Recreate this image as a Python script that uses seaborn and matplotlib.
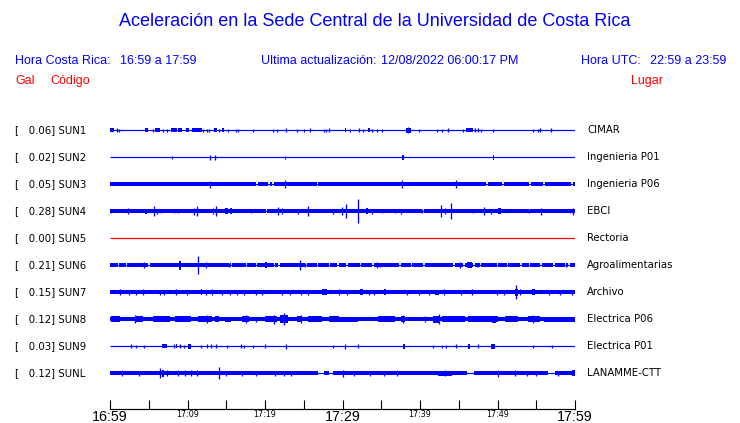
import matplotlib
matplotlib.use("Agg")
import matplotlib.pyplot as plt
import matplotlib.transforms as mtransforms
import seaborn as sns

# ---------------- data ----------------
codes = ["SUN1", "SUN2", "SUN3", "SUN4", "SUN5", "SUN6", "SUN7", "SUN8", "SUN9", "SUNL"]
places = ["CIMAR", "Ingenieria P01", "Ingenieria P06", "EBCI", "Rectoria",
          "Agroalimentarias", "Archivo", "Electrica P06", "Electrica P01", "LANAMME-CTT"]
peak_gal = [0.06, 0.02, 0.05, 0.28, 0.00, 0.21, 0.15, 0.12, 0.03, 0.12]
trace_colors = ["#0000ff"] * 4 + ["#ff0000"] + ["#0000ff"] * 5

# noise floor half-amplitude of each trace (relative units)
noise_floor = [0.6, 0.5, 2.2, 1.9, 0.5, 2.0, 2.0, 2.1, 0.5, 2.0]

# minutes after 16:59
tick_minutes = [0, 5, 10, 15, 20, 25, 30, 35, 40, 45, 50, 55, 60]
label_minutes = [0, 10, 20, 30, 40, 50, 60]
tick_labels = ["16:59", "17:09", "17:19", "17:29", "17:39", "17:49", "17:59"]
big_labels = ["16:59", "17:29", "17:59"]

# events: (start minute, end minute, half amplitude)
sun1_events = [(0.0, 0.5, 1.8), (0.9, 0.9, 1.8), (1.1, 1.1, 1.5), (4.5, 4.9, 1.8), (5.5, 5.5, 1.5),
               (5.8, 6.5, 1.8), (6.8, 6.8, 1.5), (7.4, 7.4, 1.5), (7.9, 8.6, 2.0), (8.8, 9.3, 1.8),
               (9.8, 10.2, 2.0), (10.6, 11.9, 2.0), (12.0, 12.0, 1.5), (12.5, 12.5, 1.5),
               (12.8, 12.8, 1.5), (13.4, 13.8, 2.0), (14.1, 14.1, 1.5), (14.5, 14.7, 2.0),
               (15.2, 15.2, 1.5), (16.3, 16.3, 1.5), (16.5, 16.5, 1.5), (18.5, 18.5, 1.5),
               (21.0, 21.0, 1.5), (21.5, 21.5, 1.5), (22.7, 22.7, 1.8), (24.1, 24.1, 1.5),
               (25.0, 25.0, 1.5), (25.8, 25.8, 1.8), (27.6, 27.6, 1.5), (27.9, 27.9, 1.5),
               (28.3, 28.3, 1.8), (30.3, 30.5, 1.8), (31.0, 31.0, 1.5), (32.1, 32.1, 1.8),
               (32.6, 32.6, 1.5), (33.3, 33.5, 1.8), (33.8, 33.8, 1.5), (34.5, 34.5, 1.5),
               (35.1, 35.1, 1.5), (38.2, 38.9, 2.5), (38.5, 38.5, 3.2), (39.9, 39.9, 1.5),
               (42.2, 42.2, 1.5), (42.8, 42.8, 1.5), (43.6, 43.6, 1.8), (45.5, 45.5, 1.5),
               (45.9, 46.9, 2.2), (47.1, 47.1, 1.8), (47.5, 47.5, 1.8), (47.9, 47.9, 1.5),
               (49.4, 49.4, 1.5), (54.6, 54.6, 1.5), (55.2, 55.2, 1.5), (55.5, 55.5, 1.8),
               (56.9, 56.9, 1.8)]
sun2_events = [(8.0, 8.0, 1.5), (12.9, 13.0, 2.5), (13.5, 13.5, 2.5), (22.6, 22.6, 1.5),
               (37.7, 37.9, 2.5), (49.4, 49.6, 2.5)]
sun3_events = [(12.9, 12.9, 3.5), (22.6, 22.6, 3.8), (37.7, 37.7, 3.8), (44.7, 44.7, 3.8)]
sun4_events = [(0.1, 0.1, 2.0), (2.3, 2.3, 3.0), (4.5, 4.8, 2.5), (5.7, 5.7, 5.0), (6.0, 6.0, 2.5),
               (6.6, 6.6, 2.0), (8.3, 8.3, 2.0), (8.8, 8.8, 2.0), (10.9, 10.9, 3.5), (11.2, 11.2, 5.0),
               (13.3, 13.3, 3.0), (13.7, 13.7, 5.0), (14.8, 15.2, 3.0), (15.5, 15.8, 3.0),
               (18.2, 18.2, 1.8), (21.7, 21.7, 4.0), (22.2, 22.2, 3.0), (24.2, 24.2, 2.5),
               (25.5, 25.5, 5.0), (28.8, 28.8, 2.5), (29.9, 29.9, 4.0), (30.4, 30.4, 7.0),
               (32.0, 32.0, 12.0), (33.0, 33.3, 3.0), (33.8, 33.8, 2.5), (35.1, 35.1, 1.8),
               (36.8, 36.8, 2.0), (37.6, 37.6, 2.5), (40.2, 40.2, 1.8), (42.7, 42.7, 6.0),
               (43.2, 43.2, 3.0), (44.0, 44.0, 8.0), (46.9, 46.9, 1.8), (48.2, 48.2, 4.0),
               (49.1, 49.1, 2.5), (50.1, 50.5, 3.0), (54.0, 54.0, 1.8), (55.6, 55.6, 3.5),
               (59.4, 59.4, 2.0), (59.8, 59.9, 3.5)]
sun5_events = []
sun6_events = [(0.0, 1.0, 2.4), (4.4, 4.4, 2.8), (8.9, 9.2, 4.5), (11.3, 11.3, 8.7), (12.4, 12.4, 2.8),
               (15.4, 15.4, 2.4), (20.0, 20.3, 2.8), (24.5, 24.5, 5.3), (25.2, 25.2, 2.4),
               (34.5, 34.5, 2.8), (34.8, 34.8, 2.4), (45.1, 45.1, 2.8), (46.0, 46.7, 2.8),
               (47.3, 47.3, 2.4), (58.9, 58.9, 2.2)]
sun7_events = [(1.3, 1.3, 2.8), (2.5, 2.5, 2.5), (3.3, 3.3, 2.5), (4.2, 4.2, 2.8), (6.4, 6.4, 2.5),
               (7.0, 7.0, 2.5), (8.5, 8.5, 2.8), (9.9, 9.9, 2.5), (11.7, 11.9, 2.8), (12.4, 12.4, 2.5),
               (13.1, 13.1, 2.8), (14.5, 14.5, 2.5), (15.5, 15.5, 2.5), (16.4, 16.4, 2.5),
               (17.3, 17.3, 2.5), (18.9, 18.9, 2.5), (19.6, 19.6, 2.5), (22.2, 22.2, 2.5),
               (23.2, 23.2, 2.5), (24.7, 24.7, 2.5), (25.6, 25.6, 2.5), (27.3, 28.0, 2.8),
               (29.5, 29.5, 2.8), (30.6, 30.6, 2.5), (32.3, 32.6, 3.0), (33.4, 33.4, 2.5),
               (34.0, 34.0, 2.5), (35.3, 35.6, 2.8), (38.3, 38.3, 2.5), (39.9, 39.9, 2.5),
               (41.1, 41.1, 2.5), (41.9, 42.4, 2.5), (43.1, 43.1, 3.0), (45.3, 45.3, 2.5),
               (46.7, 46.7, 2.8), (49.9, 49.9, 2.5), (50.9, 50.9, 2.5), (52.3, 52.6, 3.5),
               (52.4, 52.4, 7.0), (52.9, 52.9, 2.8), (54.5, 54.8, 2.8), (56.6, 56.6, 2.5),
               (58.0, 58.0, 2.5), (59.6, 59.6, 2.5)]
sun8_events = [(0.1, 1.3, 2.8), (3.2, 3.2, 4.0), (3.4, 4.3, 2.8), (5.6, 7.7, 3.0), (8.4, 10.5, 2.8),
               (11.4, 13.1, 3.0), (12.5, 12.5, 4.0), (13.6, 14.0, 2.8), (14.8, 15.6, 2.5),
               (17.0, 17.9, 3.2), (17.6, 17.6, 3.8), (18.9, 18.9, 2.5), (20.0, 21.5, 3.2),
               (21.1, 21.1, 4.5), (21.9, 23.0, 3.8), (22.5, 22.5, 6.0), (24.1, 24.7, 3.2),
               (24.7, 24.7, 4.0), (25.6, 27.3, 2.8), (28.2, 29.5, 3.2), (29.5, 32.0, 2.5),
               (34.6, 36.8, 2.8), (37.6, 38.1, 3.2), (37.8, 37.8, 4.0), (40.6, 40.6, 3.0),
               (41.7, 42.4, 3.5), (42.4, 42.4, 4.8), (42.8, 45.8, 2.7), (46.2, 50.1, 2.7),
               (49.3, 49.8, 3.5), (51.0, 52.6, 2.7), (53.9, 55.5, 3.2), (54.6, 54.6, 4.0),
               (56.0, 60.0, 2.5)]
sun9_events = [(2.7, 2.7, 2.0), (3.3, 3.3, 1.5), (4.4, 4.4, 1.5), (6.7, 7.3, 2.0), (8.2, 8.2, 2.0),
               (8.5, 8.7, 2.0), (9.0, 9.0, 2.0), (9.5, 9.5, 1.5), (10.1, 10.5, 2.5), (11.8, 11.8, 1.5),
               (12.5, 12.5, 2.0), (13.0, 13.0, 2.0), (13.7, 13.7, 2.0), (15.1, 15.1, 1.5),
               (16.9, 16.9, 2.0), (17.3, 17.3, 1.5), (18.5, 18.5, 1.5), (20.0, 20.0, 2.0),
               (22.7, 22.7, 2.5), (28.8, 28.8, 1.5), (30.3, 30.4, 2.5), (32.0, 32.0, 2.0),
               (37.8, 38.1, 2.5), (41.7, 41.7, 1.5), (42.8, 42.8, 1.5), (43.4, 43.4, 1.5),
               (44.7, 44.7, 2.0), (46.2, 46.5, 2.5), (47.5, 47.5, 2.0), (49.2, 49.7, 2.5),
               (54.6, 54.6, 1.5), (57.0, 57.0, 1.5)]
sunl_events = [(1.6, 1.6, 2.8), (3.7, 3.7, 2.5), (6.5, 6.5, 5.0), (6.7, 7.0, 3.5), (7.4, 7.4, 2.8),
               (8.8, 8.8, 2.8), (9.7, 9.7, 2.8), (10.5, 10.5, 2.8), (11.2, 11.2, 2.8), (14.0, 14.0, 5.7),
               (15.0, 15.0, 2.5), (17.0, 17.0, 2.5), (18.9, 18.9, 2.5), (21.3, 21.3, 2.5),
               (22.5, 22.5, 2.5), (23.3, 23.3, 2.5), (30.0, 30.0, 3.5), (31.5, 31.5, 2.5),
               (33.5, 33.5, 2.5), (35.3, 35.3, 2.5), (37.0, 37.0, 3.0), (42.3, 44.1, 2.5),
               (43.2, 43.2, 3.2), (50.0, 50.0, 3.5), (52.3, 52.3, 2.8), (53.8, 53.8, 2.5),
               (55.0, 55.0, 2.5), (57.8, 57.8, 2.5), (59.6, 60.0, 3.0)]

# quiet stretches where the trace drops to a thin line: (start, end)
sun3_quiet = [(18.9, 19.1), (20.4, 20.6), (20.9, 21.1), (26.7, 26.9), (48.5, 48.8), (50.6, 50.8),
              (54.1, 54.3), (55.9, 56.1), (59.5, 59.7)]
sun4_quiet = [(20.1, 20.3), (40.3, 40.5), (54.0, 54.2)]
sun6_quiet = [(0.9, 1.1), (2.0, 2.2), (4.9, 5.1), (15.3, 15.5), (15.6, 15.8), (17.5, 17.7),
              (18.8, 19.0), (21.1, 21.3), (21.7, 21.9), (25.2, 25.4), (26.7, 26.9), (28.2, 28.4),
              (29.3, 29.5), (30.5, 30.7), (32.2, 32.4), (33.8, 34.0), (37.3, 37.5), (38.8, 39.0),
              (40.4, 40.6), (44.3, 44.5), (45.6, 45.8), (46.9, 47.1), (47.7, 47.9), (49.9, 50.1),
              (51.2, 51.4), (52.9, 53.1), (54.0, 54.2), (55.5, 55.7), (57.2, 57.4), (58.7, 58.9),
              (59.1, 59.3)]
sunl_quiet = [(26.8, 27.6), (28.2, 28.8), (46.0, 47.0), (56.5, 57.4)]

events = [sun1_events, sun2_events, sun3_events, sun4_events, sun5_events,
          sun6_events, sun7_events, sun8_events, sun9_events, sunl_events]
quiet = [[], [], sun3_quiet, sun4_quiet, [], sun6_quiet, [], [], [], sunl_quiet]

# ---------------- figure ----------------
sns.set_theme(style="white")
plt.rcParams["font.family"] = ["DejaVu Sans"]

W, H = 740, 423
fig = plt.figure(figsize=(W / 100, H / 100), dpi=100)
fig.patch.set_facecolor("white")

ax = fig.add_axes([110 / W, (H - 409) / H, 465 / W, (409 - 115) / H])
ax.set_facecolor("white")
ax.set_xlim(0, 60)
ax.set_ylim(10.333, -0.556)

GAIN = 1 / 27.0  # one trace spacing = 27 amplitude units
PX = 0.72        # one pixel in points

for i, (evs, col) in enumerate(zip(events, trace_colors)):
    floor = noise_floor[i] * GAIN
    # thin centre line across whole window
    ax.hlines(i, 0, 60, color=col, lw=1.2 * PX, zorder=2)
    # noise band, broken at quiet stretches
    if noise_floor[i] > 0.8:
        edges = [0.0]
        for q0, q1 in quiet[i]:
            edges += [q0, q1]
        edges.append(60.0)
        for s0, s1 in zip(edges[0::2], edges[1::2]):
            ax.fill_between([s0, s1], i - floor, i + floor, color=col, lw=0, zorder=2)
    # bursts / spikes
    for t0, t1, a in evs:
        amp = a * GAIN
        if t1 - t0 < 0.15:
            ax.vlines(t0, i - amp, i + amp, color=col, lw=1.3 * PX, zorder=3)
        else:
            ax.fill_between([t0, t1], i - amp, i + amp, color=col, lw=0, zorder=3)

# axis styling
for s in ["top", "left", "right"]:
    ax.spines[s].set_visible(False)
ax.spines["bottom"].set_color("black")
ax.spines["bottom"].set_linewidth(1.2 * PX)
ax.set_yticks([])
ax.set_xticks(tick_minutes, minor=True)
ax.set_xticks(label_minutes)
ax.set_xticklabels(tick_labels)
ax.tick_params(axis="x", which="both", direction="in", length=9 * PX, width=1.1 * PX,
               color="black", pad=0.8, bottom=True)
for lab in ax.get_xticklabels():
    if lab.get_text() in big_labels:
        lab.set_fontsize(10.3)
        lab.set_fontfamily("Liberation Sans")
    else:
        lab.set_fontsize(5.8)
        lab.set_fontfamily("DejaVu Sans")
    lab.set_color("black")
ax.grid(False)

# station labels
trans = mtransforms.blended_transform_factory(fig.transFigure, ax.transData)
for i in range(len(codes)):
    ax.text(15 / W, i, f"[   {peak_gal[i]:.2f}] {codes[i]}", transform=trans,
            ha="left", va="center", fontsize=7.3, color="black", clip_on=False)
    ax.text(587 / W, i, places[i], transform=trans,
            ha="left", va="center", fontsize=7.3, color="black", clip_on=False)

# header texts
BLUE = "#0000ff"
RED = "#ff0000"
hf = "Liberation Sans"
fig.text(375 / W, 1 - 22 / H, "Aceleración en la Sede Central de la Universidad de Costa Rica",
         ha="center", va="center", fontsize=13, color=BLUE, family=hf)
fig.text(15 / W, 1 - 61 / H, "Hora Costa Rica:", ha="left", va="center", fontsize=9, color=BLUE, family=hf)
fig.text(120 / W, 1 - 61 / H, "16:59 a 17:59", ha="left", va="center", fontsize=9, color=BLUE, family=hf)
fig.text(261 / W, 1 - 61 / H, "Ultima actualización:", ha="left", va="center", fontsize=9, color=BLUE, family=hf)
fig.text(381 / W, 1 - 61 / H, "12/08/2022 06:00:17 PM", ha="left", va="center", fontsize=9, color=BLUE, family=hf)
fig.text(581 / W, 1 - 61 / H, "Hora UTC:", ha="left", va="center", fontsize=9, color=BLUE, family=hf)
fig.text(650 / W, 1 - 61 / H, "22:59 a 23:59", ha="left", va="center", fontsize=9, color=BLUE, family=hf)
fig.text(15 / W, 1 - 81 / H, "Gal", ha="left", va="center", fontsize=9, color=RED, family=hf)
fig.text(50 / W, 1 - 81 / H, "Código", ha="left", va="center", fontsize=9, color=RED, family=hf)
fig.text(631 / W, 1 - 81 / H, "Lugar", ha="left", va="center", fontsize=9, color=RED, family=hf)

fig.savefig("out.png", dpi=100, facecolor="white")
